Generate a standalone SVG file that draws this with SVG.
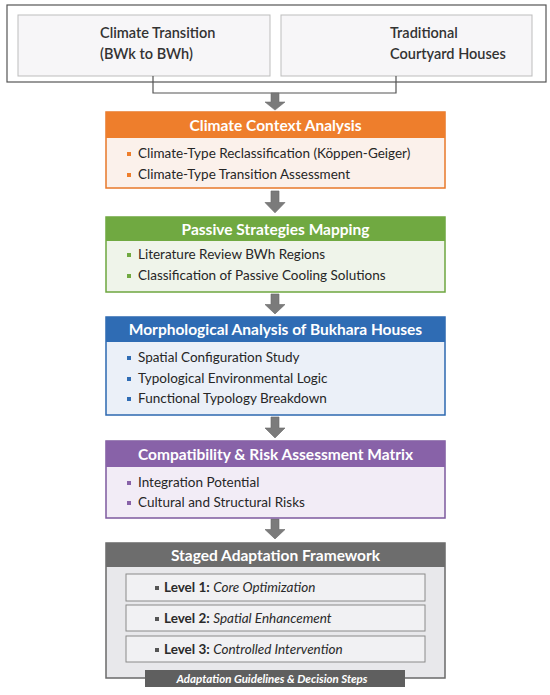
<svg xmlns="http://www.w3.org/2000/svg" width="550" height="695" viewBox="0 0 550 695">
<style>
  text { font-family: Lato, "Open Sans", "Liberation Sans", sans-serif; }
  .top { font-size: 14.5px; font-weight: 600; fill: #333; }
  .hdr { font-size: 15.5px; font-weight: 700; fill: #fff; text-anchor: middle; }
  .item { font-size: 13.5px; fill: #262626; }
  .lvl { font-size: 13.5px; fill: #2a2a2a; }
  .b { font-weight: 700; }
  .i { font-style: italic; }
  .foot { font-size: 11.5px; font-weight: 700; font-style: italic; fill: #fff; text-anchor: middle; }
  .conn { fill: none; stroke: #555; stroke-width: 1.2; }
  .arrow { fill: #7b7b7b; stroke: #6a6a6a; stroke-width: 0.6; }
</style>
<defs>
  <polygon id="arr" points="-4,0 4,0 4,10 10,10 0,19 -10,10 -4,10"/>
</defs>
<rect width="550" height="695" fill="#fff"/>

<g id="inputs">
  <rect x="7" y="5" width="539" height="77" fill="#fff" stroke="#555" stroke-width="1.2"/>
  <g id="climate-transition">
    <rect x="18" y="15" width="252" height="61" fill="#f7f6f8" stroke="#bdbdbd" stroke-width="1"/>
    <text class="top" x="100" y="38">Climate Transition</text>
    <text class="top" x="100" y="59">(BWk to BWh)</text>
  </g>
  <g id="courtyard-houses">
    <rect x="281" y="15" width="251" height="61" fill="#f7f6f8" stroke="#bdbdbd" stroke-width="1"/>
    <text class="top" x="390" y="38">Traditional</text>
    <text class="top" x="390" y="59">Courtyard Houses</text>
  </g>
</g>

<g id="connectors">
  <polyline class="conn" points="153,76 153,93 396,93 396,76"/>
  <use href="#arr" class="arrow" transform="translate(275,93) scale(1,0.9)"/>
  <use href="#arr" class="arrow" transform="translate(275,191) scale(1,1.15)"/>
  <use href="#arr" class="arrow" transform="translate(275,294) scale(1,1.05)"/>
  <use href="#arr" class="arrow" transform="translate(275,417) scale(1,1.1)"/>
  <use href="#arr" class="arrow" transform="translate(275,519) scale(1,1.05)"/>
</g>

<g id="climate-context">
  <rect x="106" y="112" width="339" height="76" fill="#fbf1eb" stroke="#e8782a" stroke-width="1.5"/>
  <rect x="106" y="112" width="339" height="26" fill="#ee7e2c"/>
  <text class="hdr" x="275.5" y="130.5">Climate Context Analysis</text>
  <rect x="127" y="152" width="4" height="4" fill="#ee7e2c"/>
  <text class="item" x="138" y="158">Climate-Type Reclassification (Köppen-Geiger)</text>
  <rect x="127" y="173" width="4" height="4" fill="#ee7e2c"/>
  <text class="item" x="138" y="179">Climate-Type Transition Assessment</text>
</g>

<g id="passive-strategies">
  <rect x="106" y="217" width="339" height="75" fill="#eff4ea" stroke="#6ea63f" stroke-width="1.5"/>
  <rect x="106" y="217" width="339" height="24" fill="#70a941"/>
  <text class="hdr" x="275.5" y="234.5">Passive Strategies Mapping</text>
  <rect x="127" y="253" width="4" height="4" fill="#70a941"/>
  <text class="item" x="138" y="259">Literature Review BWh Regions</text>
  <rect x="127" y="274" width="4" height="4" fill="#70a941"/>
  <text class="item" x="138" y="280">Classification of Passive Cooling Solutions</text>
</g>

<g id="morphological-analysis">
  <rect x="106" y="317" width="339" height="98" fill="#ebf0f8" stroke="#2d68b0" stroke-width="1.5"/>
  <rect x="106" y="317" width="339" height="25" fill="#2f6cb4"/>
  <text class="hdr" x="275.5" y="335">Morphological Analysis of Bukhara Houses</text>
  <rect x="127" y="356" width="4" height="4" fill="#2f6cb4"/>
  <text class="item" x="138" y="362">Spatial Configuration Study</text>
  <rect x="127" y="377" width="4" height="4" fill="#2f6cb4"/>
  <text class="item" x="138" y="383">Typological Environmental Logic</text>
  <rect x="127" y="397" width="4" height="4" fill="#2f6cb4"/>
  <text class="item" x="138" y="403">Functional Typology Breakdown</text>
</g>

<g id="compatibility-risk">
  <rect x="106" y="441" width="339" height="77" fill="#f2ecf6" stroke="#7d5a9e" stroke-width="1.5"/>
  <rect x="106" y="441" width="339" height="26" fill="#8862a8"/>
  <text class="hdr" x="275.5" y="459.5">Compatibility &amp; Risk Assessment Matrix</text>
  <rect x="127" y="481" width="4" height="4" fill="#8862a8"/>
  <text class="item" x="138" y="487">Integration Potential</text>
  <rect x="127" y="501" width="4" height="4" fill="#8862a8"/>
  <text class="item" x="138" y="507">Cultural and Structural Risks</text>
</g>

<g id="staged-adaptation">
  <rect x="106" y="543" width="339" height="135" fill="#e8e8eb" stroke="#6a6a6a" stroke-width="1.5"/>
  <rect x="106" y="543" width="339" height="24" fill="#6d6d6d"/>
  <text class="hdr" x="275.5" y="560.5">Staged Adaptation Framework</text>
  <g id="level-1">
    <rect x="126" y="574" width="299" height="27" fill="#f1f1f3" stroke="#8a8a8a" stroke-width="1"/>
    <rect x="155" y="586" width="4" height="4" fill="#555"/>
    <text class="lvl" x="164" y="592"><tspan class="b">Level 1:</tspan> <tspan class="i">Core Optimization</tspan></text>
  </g>
  <g id="level-2">
    <rect x="126" y="605" width="299" height="26" fill="#f1f1f3" stroke="#8a8a8a" stroke-width="1"/>
    <rect x="155" y="617" width="4" height="4" fill="#555"/>
    <text class="lvl" x="164" y="623"><tspan class="b">Level 2:</tspan> <tspan class="i">Spatial Enhancement</tspan></text>
  </g>
  <g id="level-3">
    <rect x="126" y="636" width="299" height="26" fill="#f1f1f3" stroke="#8a8a8a" stroke-width="1"/>
    <rect x="155" y="648" width="4" height="4" fill="#555"/>
    <text class="lvl" x="164" y="654"><tspan class="b">Level 3:</tspan> <tspan class="i">Controlled Intervention</tspan></text>
  </g>
  <g id="guidelines">
    <rect x="145" y="670" width="260" height="17" fill="#5f5f5f"/>
    <text class="foot" x="272" y="682.5">Adaptation Guidelines &amp; Decision Steps</text>
  </g>
</g>
</svg>
